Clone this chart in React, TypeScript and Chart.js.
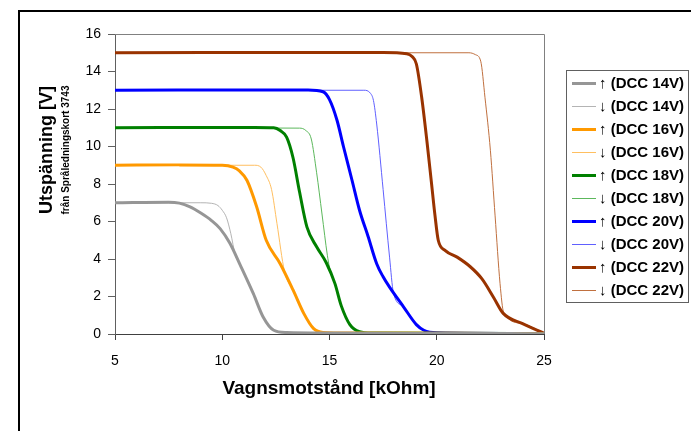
import React, { useEffect, useRef } from "react";
import { Chart, registerables } from "chart.js";

Chart.register(...registerables);

const FONT = "'Liberation Sans', Arial, sans-serif";

const xTickValues = [5, 10, 15, 20, 25];
const yTickValues = [0, 2, 4, 6, 8, 10, 12, 14, 16];

const labels = [
  "↑ (DCC 14V)", "↓ (DCC 14V)",
  "↑ (DCC 16V)", "↓ (DCC 16V)",
  "↑ (DCC 18V)", "↓ (DCC 18V)",
  "↑ (DCC 20V)", "↓ (DCC 20V)",
  "↑ (DCC 22V)", "↓ (DCC 22V)",
];

const dcc14Up: [number, number][] = [[5, 7], [7.5, 7.03], [8, 6.98], [8.5, 6.78], [9, 6.45], [9.5, 6.05], [9.9, 5.62], [10.35, 4.85], [10.85, 3.65], [11.45, 2.15], [11.9, 0.92], [12.4, 0.2], [13, 0.08], [15, 0.05], [20, 0.03], [25, 0.02]];
const dcc14Down: [number, number][] = [[5, 7], [9, 7.0], [9.5, 6.97], [9.8, 6.85], [10.0, 6.6], [10.2, 6.2], [10.4, 5.35], [10.6, 4.25], [10.85, 3.65], [11.45, 2.15], [11.9, 0.92], [12.4, 0.2], [13, 0.08], [15, 0.05], [20, 0.03], [25, 0.02]];
const dcc16Up: [number, number][] = [[5, 9], [8, 9.02], [10, 9.0], [10.5, 8.9], [10.8, 8.7], [11.15, 8.2], [11.6, 6.8], [12.05, 5.0], [12.7, 3.75], [13.3, 2.35], [13.8, 1.1], [14.25, 0.3], [14.7, 0.08], [16, 0.05], [25, 0.02]];
const dcc16Down: [number, number][] = [[5, 9], [11.5, 9.0], [11.8, 8.9], [12.05, 8.45], [12.3, 7.7], [12.55, 5.9], [12.9, 3.35], [13.3, 2.35], [13.8, 1.1], [14.25, 0.3], [14.7, 0.08], [16, 0.05], [25, 0.02]];
const dcc18Up: [number, number][] = [[5, 11], [11.5, 11.02], [12.4, 11.0], [12.7, 10.85], [13.0, 10.5], [13.3, 9.4], [13.6, 7.6], [13.95, 5.7], [14.4, 4.65], [14.85, 3.8], [15.25, 2.7], [15.55, 1.5], [15.95, 0.5], [16.4, 0.12], [17, 0.05], [25, 0.02]];
const dcc18Down: [number, number][] = [[5, 11], [13.6, 10.98], [13.9, 10.85], [14.15, 10.4], [14.4, 8.6], [14.65, 6.4], [14.9, 4.2], [15.0, 3.55], [15.25, 2.7], [15.55, 1.5], [15.95, 0.5], [16.4, 0.12], [17, 0.05], [25, 0.02]];
const dcc20Up: [number, number][] = [[5, 13], [14.0, 13.02], [14.7, 12.92], [15.0, 12.5], [15.35, 11.4], [15.65, 10.0], [16.05, 8.2], [16.4, 6.6], [16.8, 5.2], [17.2, 3.75], [17.5, 3.05], [17.8, 2.5], [18.45, 1.45], [19.05, 0.5], [19.4, 0.2], [20, 0.07], [25, 0.03]];
const dcc20Down: [number, number][] = [[5, 13], [16.6, 13.0], [16.9, 12.85], [17.05, 12.45], [17.2, 11.2], [17.5, 7.7], [17.8, 4.1], [17.98, 2.2], [18.45, 1.45], [19.05, 0.5], [19.4, 0.2], [20, 0.07], [25, 0.03]];
const dcc22Up: [number, number][] = [[5, 15], [17.5, 15.02], [18.6, 14.95], [18.85, 14.8], [19.05, 14.4], [19.3, 12.6], [19.55, 10.2], [19.75, 8.1], [19.92, 6.3], [20.07, 5.0], [20.4, 4.45], [20.95, 4.1], [21.55, 3.6], [22.1, 2.95], [22.65, 1.95], [23.1, 1.1], [24.0, 0.55], [25, 0.05]];
const dcc22Down: [number, number][] = [[5, 15], [21.5, 15.0], [21.8, 14.9], [22.05, 14.55], [22.25, 12.6], [22.5, 9.8], [22.72, 6.3], [22.95, 2.7], [23.12, 1.15], [24.0, 0.55], [25, 0.05]];

const seriesData = [dcc14Up, dcc14Down, dcc16Up, dcc16Down, dcc18Up, dcc18Down, dcc20Up, dcc20Down, dcc22Up, dcc22Down];
const colors = ["#969696", "#b4b4b4", "#ff9900", "#ffbf60", "#008000", "#5cb85c", "#0000ff", "#6060ff", "#993300", "#c0703f"];
const widths = [3, 1, 3, 1, 3, 1, 3, 1, 3, 1];

const decor = {
  id: "decor",
  beforeDraw(chart: any) {
    const ctx = chart.ctx;
    ctx.save();
    ctx.fillStyle = "#ffffff";
    ctx.fillRect(0, 0, chart.width, chart.height);
    ctx.fillStyle = "#000000";
    ctx.fillRect(18, 10, chart.width - 18, 2);
    ctx.fillRect(18, 10, 2, chart.height - 10);
    ctx.restore();
  },
  beforeDatasetsDraw(chart: any) {
    const { ctx, chartArea: a } = chart;
    ctx.save();
    ctx.strokeStyle = "#808080";
    ctx.lineWidth = 1;
    ctx.beginPath();
    ctx.moveTo(a.left, a.top + 0.5);
    ctx.lineTo(a.right + 0.5, a.top + 0.5);
    ctx.lineTo(a.right + 0.5, a.bottom);
    ctx.stroke();
    ctx.restore();
  },
  afterDraw(chart: any) {
    const ctx = chart.ctx;
    ctx.save();
    ctx.fillStyle = "#000000";
    ctx.textAlign = "center";
    ctx.textBaseline = "middle";
    ctx.font = `bold 19px ${FONT}`;
    ctx.fillText("Vagnsmotstånd [kOhm]", 329, 389);
    ctx.save();
    ctx.translate(47, 150);
    ctx.rotate(-Math.PI / 2);
    ctx.font = `bold 18px ${FONT}`;
    ctx.fillText("Utspänning [V]", 0, 0);
    ctx.restore();
    ctx.save();
    ctx.translate(66, 150);
    ctx.rotate(-Math.PI / 2);
    ctx.font = `bold 10px ${FONT}`;
    ctx.fillText("från Språledningskort 3743", 0, 0);
    ctx.restore();
    // legend
    ctx.strokeStyle = "#606060";
    ctx.lineWidth = 1;
    ctx.strokeRect(566.5, 70.5, 122, 232);
    ctx.textAlign = "left";
    ctx.font = `bold 15px ${FONT}`;
    chart.data.datasets.forEach((ds: any, i: number) => {
      const y = 83 + i * 23;
      ctx.strokeStyle = ds.borderColor;
      ctx.lineWidth = ds.borderWidth;
      ctx.beginPath();
      ctx.moveTo(572, y + 0.5);
      ctx.lineTo(596, y + 0.5);
      ctx.stroke();
      ctx.fillStyle = "#000000";
      ctx.fillText(ds.label, 599, y + 1);
    });
    ctx.restore();
  },
};

export default function App() {
  const ref = useRef<HTMLCanvasElement>(null);
  useEffect(() => {
    if (!ref.current) return;
    const chart = new Chart(ref.current, {
      type: "line",
      data: {
        datasets: seriesData.map((s, i) => ({
          label: labels[i],
          data: s.map(([x, y]) => ({ x, y })),
          borderColor: colors[i],
          backgroundColor: colors[i],
          borderWidth: widths[i],
          pointRadius: 0,
          fill: false,
          cubicInterpolationMode: "monotone" as const,
        })),
      },
      options: {
        animation: false,
        responsive: false,
        devicePixelRatio: 1,
        layout: { padding: { left: 0, top: 34, right: 147, bottom: 0 } },
        plugins: { legend: { display: false }, tooltip: { enabled: false } },
        scales: {
          x: {
            type: "linear",
            min: 5,
            max: 25,
            afterFit: (s: any) => { s.height = 97; },
            afterBuildTicks: (s: any) => { s.ticks = xTickValues.map((v) => ({ value: v })); },
            grid: { display: true, drawOnChartArea: false, tickLength: 6, color: "#404040" },
            border: { color: "#404040", width: 1 },
            ticks: { color: "#000000", font: { family: FONT, size: 14 }, padding: 13, maxRotation: 0 },
          },
          y: {
            type: "linear",
            min: 0,
            max: 16,
            afterFit: (s: any) => { s.width = 115; },
            afterBuildTicks: (s: any) => { s.ticks = yTickValues.map((v) => ({ value: v })); },
            grid: { display: true, drawOnChartArea: false, tickLength: 7, color: "#606060" },
            border: { color: "#606060", width: 1 },
            ticks: { color: "#000000", font: { family: FONT, size: 14 }, padding: 7 },
          },
        },
      },
      plugins: [decor],
    });
    return () => chart.destroy();
  }, []);
  return (
    <div style={{ position: "fixed", left: 0, top: 0, width: 691, height: 431 }}>
      <canvas ref={ref} width={691} height={431} style={{ width: 691, height: 431, display: "block" }} />
    </div>
  );
}
